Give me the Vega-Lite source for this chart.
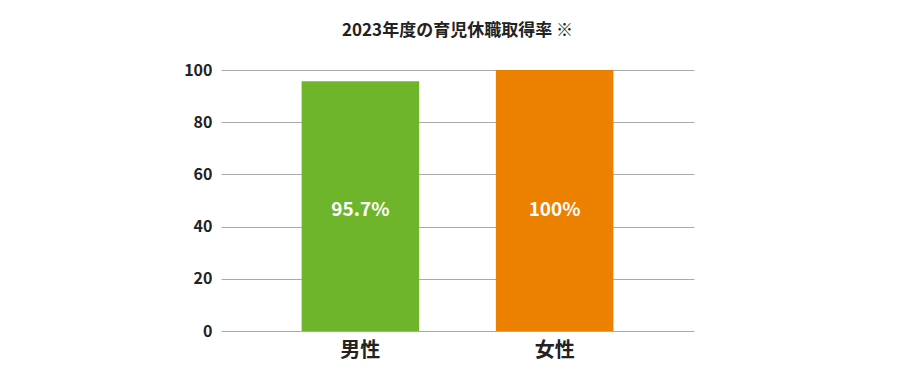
{
  "$schema": "https://vega.github.io/schema/vega-lite/v6.json",
  "width": 473,
  "height": 261,
  "autosize": "none",
  "padding": {"left": 221, "top": 70, "right": 216, "bottom": 40},
  "background": "white",
  "title": {
    "text": "2023年度の育児休職取得率 ※",
    "font": "Noto Sans CJK JP",
    "fontSize": 17,
    "fontWeight": "bold",
    "color": "#222222",
    "anchor": "middle",
    "offset": 22
  },
  "data": {
    "values": [
      {"gender": "男性", "rate": 95.7, "label": "95.7%"},
      {"gender": "女性", "rate": 100, "label": "100%"}
    ]
  },
  "config": {
    "view": {"stroke": null},
    "font": "Noto Sans CJK JP"
  },
  "layer": [
    {
      "mark": {"type": "bar"},
      "encoding": {
        "x": {
          "field": "gender",
          "type": "nominal",
          "sort": ["男性", "女性"],
          "scale": {"paddingInner": 0.395, "paddingOuter": 0.415},
          "axis": {
            "title": null,
            "labelAngle": 0,
            "domain": false,
            "ticks": false,
            "labelFontSize": 20,
            "labelFontWeight": "bold",
            "labelColor": "#222222",
            "labelPadding": 9,
            "labelFont": "Noto Sans CJK JP"
          }
        },
        "y": {
          "field": "rate",
          "type": "quantitative",
          "scale": {"domain": [0, 100], "nice": false},
          "axis": {
            "title": null,
            "values": [0, 20, 40, 60, 80, 100],
            "domain": false,
            "ticks": false,
            "grid": true,
            "gridColor": "#aaaaaa",
            "gridWidth": 1.2,
            "labelFontSize": 16,
            "labelFontWeight": "bold",
            "labelColor": "#222222",
            "labelPadding": 9,
            "labelFont": "Noto Sans CJK JP"
          }
        },
        "color": {
          "field": "gender",
          "type": "nominal",
          "scale": {"domain": ["男性", "女性"], "range": ["#6fb52c", "#ec8000"]},
          "legend": null
        }
      }
    },
    {
      "mark": {"type": "text", "color": "white", "fontSize": 19, "fontWeight": "bold", "baseline": "middle", "font": "Noto Sans CJK JP"},
      "encoding": {
        "x": {"field": "gender", "type": "nominal", "sort": ["男性", "女性"]},
        "y": {"datum": 46.5},
        "text": {"field": "label"}
      }
    }
  ]
}
